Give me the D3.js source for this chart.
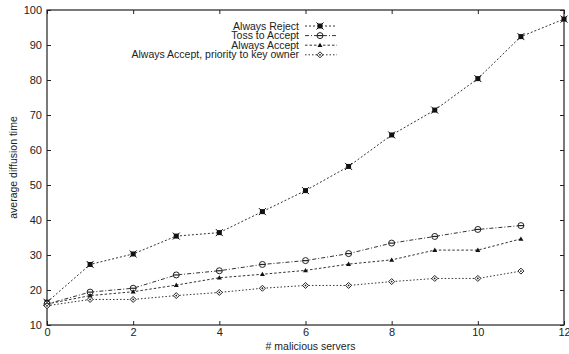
<!DOCTYPE html>
<html>
<head>
<meta charset="utf-8">
<script src="https://cdn.jsdelivr.net/npm/d3@7"></script>
<style>
  body { margin: 0; background: #fff; }
  text { font-family: "Liberation Sans", Arial, sans-serif; fill: #222; }
</style>
</head>
<body>
<div id="chart"></div>
<script>
// data
var servers = [0, 1, 2, 3, 4, 5, 6, 7, 8, 9, 10, 11, 12];
var alwaysReject = [16.5, 27.3, 30.3, 35.4, 36.4, 42.4, 48.4, 55.3, 64.3, 71.4, 80.4, 92.4, 97.4];
var tossToAccept = [16, 19.4, 20.5, 24.3, 25.5, 27.3, 28.4, 30.4, 33.4, 35.3, 37.3, 38.4];
var alwaysAccept = [16, 18.4, 19.5, 21.4, 23.5, 24.5, 25.6, 27.4, 28.6, 31.4, 31.4, 34.6];
var priorityOwner = [15.5, 17.3, 17.3, 18.4, 19.3, 20.5, 21.3, 21.3, 22.4, 23.3, 23.3, 25.4];
var seriesNames = ["Always Reject", "Toss to Accept", "Always Accept", "Always Accept, priority to key owner"];
var xTicks = [0, 2, 4, 6, 8, 10, 12];
var yTicks = [10, 20, 30, 40, 50, 60, 70, 80, 90, 100];

var W = 569, H = 354;
var margin = {top: 10, right: 5, bottom: 30, left: 47};

var svg = d3.select("#chart").append("svg")
    .attr("width", W)
    .attr("height", H);

var x = d3.scaleLinear().domain([0, 12]).range([margin.left, W - margin.right]);
var y = d3.scaleLinear().domain([10, 100]).range([H - margin.bottom + 1, margin.top]);

var series = [
    {name: seriesNames[0], values: alwaysReject, dash: "2,2", marker: "square"},
    {name: seriesNames[1], values: tossToAccept, dash: "4,2,1,2", marker: "circle"},
    {name: seriesNames[2], values: alwaysAccept, dash: "2.5,2", marker: "triangle"},
    {name: seriesNames[3], values: priorityOwner, dash: "1.5,2", marker: "diamond"}
];

// axes with inward ticks, gnuplot style
svg.append("g")
    .attr("transform", "translate(0," + y(10) + ")")
    .call(d3.axisBottom(x).tickValues(xTicks).tickSize(-4).tickPadding(3))
    .call(function(g) { g.select(".domain").remove(); });
svg.append("g")
    .attr("transform", "translate(0," + y(100) + ")")
    .call(d3.axisTop(x).tickValues(xTicks).tickSize(-4).tickFormat(""))
    .call(function(g) { g.select(".domain").remove(); });
svg.append("g")
    .attr("transform", "translate(" + x(0) + ",0)")
    .call(d3.axisLeft(y).tickValues(yTicks).tickSize(-4).tickPadding(5))
    .call(function(g) { g.select(".domain").remove(); });
svg.append("g")
    .attr("transform", "translate(" + x(12) + ",0)")
    .call(d3.axisRight(y).tickValues(yTicks).tickSize(-4).tickFormat(""))
    .call(function(g) { g.select(".domain").remove(); });

svg.selectAll(".tick text").style("font-size", "11px").style("fill", "#222");
svg.selectAll(".tick line").attr("stroke", "#222");

svg.append("rect")
    .attr("x", x(0))
    .attr("y", y(100))
    .attr("width", x(12) - x(0))
    .attr("height", y(10) - y(100))
    .attr("fill", "none")
    .attr("stroke", "#222")
    .attr("stroke-width", 1.2);

// axis labels
svg.append("text")
    .attr("x", (x(0) + x(12)) / 2 + 5)
    .attr("y", 350)
    .attr("text-anchor", "middle")
    .style("font-size", "10.5px")
    .text("# malicious servers");

svg.append("text")
    .attr("transform", "translate(17," + (y(10) + y(100)) / 2 + ") rotate(-90)")
    .attr("text-anchor", "middle")
    .style("font-size", "10.5px")
    .text("average diffusion time");

function drawMarker(g, type, cx, cy) {
    if (type == "square") {
        g.append("rect").attr("x", cx - 2.5).attr("y", cy - 2.5).attr("width", 5).attr("height", 5)
            .attr("fill", "#111");
        g.append("path").attr("d", "M" + (cx - 3.5) + "," + (cy - 3.5) + "L" + (cx + 3.5) + "," + (cy + 3.5) +
            "M" + (cx - 3.5) + "," + (cy + 3.5) + "L" + (cx + 3.5) + "," + (cy - 3.5))
            .attr("stroke", "#111").attr("stroke-width", 1);
    } else if (type == "circle") {
        g.append("circle").attr("cx", cx).attr("cy", cy).attr("r", 3)
            .attr("fill", "#fff").attr("stroke", "#222").attr("stroke-width", 1);
        g.append("line").attr("x1", cx - 3).attr("x2", cx + 3).attr("y1", cy).attr("y2", cy)
            .attr("stroke", "#222").attr("stroke-width", 1.2);
    } else if (type == "triangle") {
        g.append("path").attr("d", "M" + cx + "," + (cy - 2.5) + "L" + (cx + 2.5) + "," + (cy + 1.8) +
            "L" + (cx - 2.5) + "," + (cy + 1.8) + "Z").attr("fill", "#111");
    } else {
        g.append("path").attr("d", "M" + cx + "," + (cy - 3) + "L" + (cx + 3) + "," + cy +
            "L" + cx + "," + (cy + 3) + "L" + (cx - 3) + "," + cy + "Z")
            .attr("fill", "#fff").attr("stroke", "#222").attr("stroke-width", 1);
        g.append("circle").attr("cx", cx).attr("cy", cy).attr("r", 0.9).attr("fill", "#222");
    }
}

var line = d3.line()
    .x(function(d, i) { return x(servers[i]); })
    .y(function(d) { return y(d); });

series.forEach(function(s) {
    svg.append("path")
        .datum(s.values)
        .attr("d", line)
        .attr("fill", "none")
        .attr("stroke", "#333")
        .attr("stroke-width", 1)
        .attr("stroke-dasharray", s.dash);
    var g = svg.append("g");
    s.values.forEach(function(v, i) {
        drawMarker(g, s.marker, x(servers[i]), y(v));
    });
});

// legend
var legend = svg.selectAll(".legend")
    .data(series)
    .enter()
    .append("g")
    .attr("class", "legend")
    .attr("transform", function(d, i) {
        return "translate(0," + (26 + i * 9.6) + ")";
    });

legend.append("text")
    .attr("x", 299)
    .attr("dy", ".35em")
    .attr("text-anchor", "end")
    .style("font-size", "10.5px")
    .text(function(d) { return d.name; });

legend.append("line")
    .attr("x1", 305)
    .attr("x2", 337)
    .attr("stroke", "#333")
    .attr("stroke-dasharray", function(d) { return d.dash; });

legend.each(function(d) {
    drawMarker(d3.select(this), d.marker, 320, 0);
});
</script>
</body>
</html>
